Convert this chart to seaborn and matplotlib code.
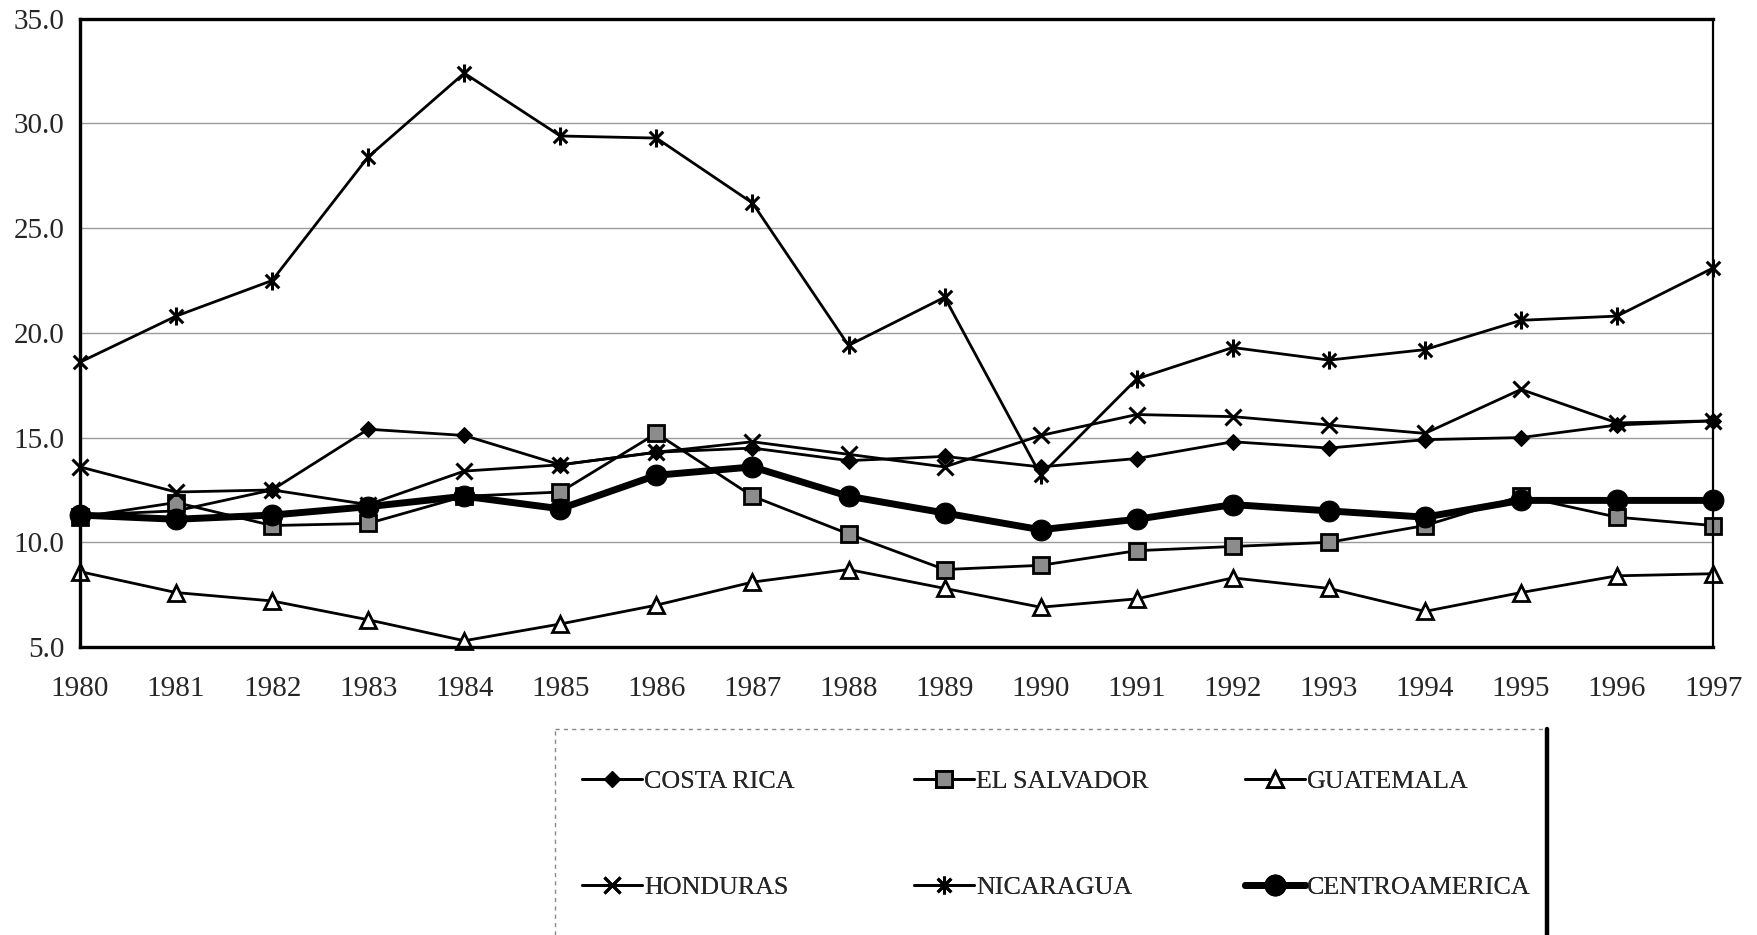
import matplotlib
matplotlib.use("Agg")
import matplotlib.pyplot as plt
from matplotlib.path import Path
from matplotlib.lines import Line2D
import seaborn as sns

years = list(range(1980, 1998))
costa_rica = [11.3, 11.5, 12.5, 15.4, 15.1, 13.7, 14.3, 14.5, 13.9, 14.1, 13.6, 14.0, 14.8, 14.5, 14.9, 15.0, 15.6, 15.8]
el_salvador = [11.2, 11.9, 10.8, 10.9, 12.2, 12.4, 15.2, 12.2, 10.4, 8.7, 8.9, 9.6, 9.8, 10.0, 10.8, 12.2, 11.2, 10.8]
guatemala = [8.6, 7.6, 7.2, 6.3, 5.3, 6.1, 7.0, 8.1, 8.7, 7.8, 6.9, 7.3, 8.3, 7.8, 6.7, 7.6, 8.4, 8.5]
honduras = [13.6, 12.4, 12.5, 11.8, 13.4, 13.7, 14.3, 14.8, 14.2, 13.6, 15.1, 16.1, 16.0, 15.6, 15.2, 17.3, 15.7, 15.8]
nicaragua = [18.6, 20.8, 22.5, 28.4, 32.4, 29.4, 29.3, 26.2, 19.4, 21.7, 13.2, 17.8, 19.3, 18.7, 19.2, 20.6, 20.8, 23.1]
centroamerica = [11.3, 11.1, 11.3, 11.7, 12.2, 11.6, 13.2, 13.6, 12.2, 11.4, 10.6, 11.1, 11.8, 11.5, 11.2, 12.0, 12.0, 12.0]

sns.set_style("white")
plt.rcParams["font.family"] = ["Liberation Serif", "DejaVu Serif"]

# excel-like star marker: x plus vertical bar
star = Path([(0, -1), (0, 1), (-0.75, -0.75), (0.75, 0.75), (-0.75, 0.75), (0.75, -0.75)],
            [Path.MOVETO, Path.LINETO, Path.MOVETO, Path.LINETO, Path.MOVETO, Path.LINETO])

fig = plt.figure(figsize=(17.58, 9.35), dpi=100)
ax = fig.add_axes([0.0455, 0.308, 0.929, 0.672])

styles = [
    ("COSTA RICA", costa_rica, dict(marker="D", markersize=8, markerfacecolor="black", linewidth=2)),
    ("EL SALVADOR", el_salvador, dict(marker="s", markersize=12, markerfacecolor="#8c8c8c", markeredgewidth=2, linewidth=2)),
    ("GUATEMALA", guatemala, dict(marker="^", markersize=12, markerfacecolor="white", markeredgewidth=2, linewidth=2)),
    ("HONDURAS", honduras, dict(marker="x", markersize=12, markeredgewidth=2.2, linewidth=2)),
    ("NICARAGUA", nicaragua, dict(marker=star, markersize=13, markeredgewidth=2.2, linewidth=2)),
    ("CENTROAMERICA", centroamerica, dict(marker="o", markersize=15, markerfacecolor="black", linewidth=5)),
]

for name, vals, kw in styles:
    sns.lineplot(x=years, y=vals, ax=ax, color="black", markeredgecolor="black",
                 label=name, clip_on=False, legend=False, **kw)

ax.set_xlim(1980, 1997)
ax.set_ylim(5, 35)
ax.set_xticks(years)
ax.set_xticklabels([str(y) for y in years])
ax.set_yticks(range(5, 36, 5))
ax.set_yticklabels([f"{v:.1f}" for v in range(5, 36, 5)])
ax.yaxis.grid(True, color="#9a9a9a", linewidth=1)
ax.xaxis.grid(False)
ax.tick_params(axis="both", labelsize=21, length=5, width=1, color="#777777", direction="out")
ax.tick_params(axis="x", pad=16)
ax.tick_params(axis="y", pad=6)
ax.set_xlabel("")
ax.set_ylabel("")
for side in ["left", "top", "bottom"]:
    ax.spines[side].set_linewidth(2.4)
    ax.spines[side].set_color("black")
ax.spines["right"].set_linewidth(1.6)
ax.spines["right"].set_color("black")

# legend: three fixed-width columns like the excel legend
handles, labels = ax.get_legend_handles_labels()
col_x = [582, 914, 1245]
for c, x0 in enumerate(col_x):
    idx = [c, c + 3]
    leg = fig.legend([handles[i] for i in idx], [labels[i] for i in idx],
                     loc="upper left", bbox_to_anchor=(x0 / 1758, 1 - 770 / 935),
                     ncol=1, frameon=False, fontsize=18.7, handlelength=2.3, handletextpad=0.1,
                     labelspacing=3.2, borderpad=0, borderaxespad=0)
    fig.add_artist(leg)

# legend box (dotted top/left, heavy right edge)
lx0, lx1, ly0 = 555 / 1758, 1547 / 1758, 1 - 729 / 935
fig.add_artist(Line2D([lx0, lx1], [ly0, ly0], transform=fig.transFigure, color="#888888", lw=1, ls=(0, (3, 3))))
fig.add_artist(Line2D([lx0, lx0], [0, ly0], transform=fig.transFigure, color="#888888", lw=1, ls=(0, (3, 3))))
fig.add_artist(Line2D([lx1, lx1], [0, ly0], transform=fig.transFigure, color="black", lw=3.2))

fig.savefig("out.png", dpi=100)
